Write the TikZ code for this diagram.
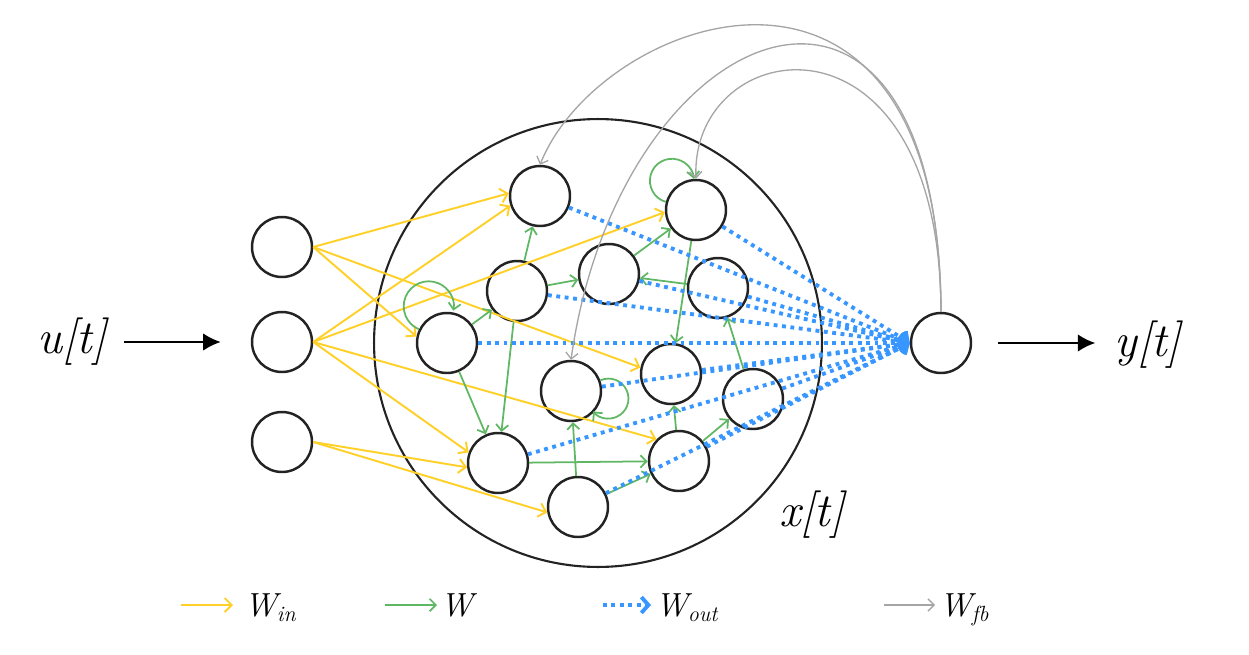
\documentclass[tikz,border=0pt]{standalone}
\usetikzlibrary{arrows.meta}
\definecolor{cyel}{RGB}{255,208,40}
\definecolor{cgrn}{RGB}{95,183,100}
\definecolor{cblu}{RGB}{55,150,255}
\definecolor{cgry}{RGB}{165,165,165}
\definecolor{cstk}{RGB}{35,35,35}
\newcommand{\legsub}[1]{\raisebox{-0.35ex}{\fontsize{12.5}{13}\selectfont #1}}
\begin{document}
\begin{tikzpicture}[x=0.02cm,y=0.02cm,
  neuron/.style={circle,draw=cstk,line width=1.4pt,minimum size=1.2cm,inner sep=0pt},
  resv/.style={circle,draw=cstk,line width=1.2pt,minimum size=8.96cm,inner sep=0pt},
  yedge/.style={draw=cyel,line width=1.1pt,-{Straight Barb[length=4pt,width=8pt]}},
  gedge/.style={draw=cgrn,line width=1pt,-{Straight Barb[length=3.5pt,width=7pt]}},
  fbedge/.style={draw=cgry,line width=0.75pt,-{Straight Barb[length=3.5pt,width=7pt]}},
  oedge/.style={draw=cblu,line width=2.2pt,dash pattern=on 2.2pt off 2.6pt,-{Straight Barb[length=4pt,width=9pt]}},
  bigarrow/.style={draw=black,line width=1.4pt,-{Latex[length=10pt,width=10pt]}},
  lab/.style={inner sep=0pt,font=\fontsize{27}{30}\selectfont\itshape},
  leg/.style={inner sep=0pt,anchor=base west,font=\fontsize{19}{22}\selectfont\itshape}]
\useasboundingbox (0,0) rectangle (1249,654);

% reservoir
\node[resv] (res) at (598,311) {};

% neurons
\node[neuron] (i1) at (282,407) {};
\node[neuron] (i2) at (282,312) {};
\node[neuron] (i3) at (282,212) {};
\node[neuron] (r1) at (540,458) {};
\node[neuron] (r2) at (517,363) {};
\node[neuron] (r3) at (447,311) {};
\node[neuron] (r4) at (609,380) {};
\node[neuron] (r5) at (696,444) {};
\node[neuron] (r6) at (718,366) {};
\node[neuron] (r7) at (571,263) {};
\node[neuron] (r8) at (498,191) {};
\node[neuron] (r9) at (578,147) {};
\node[neuron] (r10) at (671,280) {};
\node[neuron] (r11) at (753,255) {};
\node[neuron] (r12) at (679,193) {};
\node[neuron] (out) at (941,311) {};

% labels
\node[lab] (ulab) at (72,312) {u[t]};
\node[lab] (ylab) at (1148,309) {y[t]};
\node[lab] (xlab) at (812,139) {x[t]};

\draw[bigarrow,shorten <=0.34cm,shorten >=0.6cm] (ulab.east |- i2) -- (i2.west);
\draw[bigarrow,shorten <=0.52cm,shorten >=0.38cm] (out.east) -- (out.east -| ylab.west);

% input weights
\draw[yedge] (i1.east) -- (r1.175);
\draw[yedge] (i1.east) -- (r3.168);
\draw[yedge] (i1.east) -- (r10.168);
\draw[yedge] (i2.east) -- (r1.198);
\draw[yedge] (i2.east) -- (r5.184);
\draw[yedge] (i2.east) -- (r8.160);
\draw[yedge] (i2.east) -- (r12.136);
\draw[yedge] (i3.east) -- (r8.188);
\draw[yedge] (i3.east) -- (r9.190);

% reservoir weights
\draw[gedge] (r3) -- (r2);
\draw[gedge] (r2) -- (r1);
\draw[gedge] (r2) -- (r4);
\draw[gedge] (r2) -- (r8);
\draw[gedge] (r3) -- (r8);
\draw[gedge] (r4) -- (r5);
\draw[gedge] (r5) -- (r10);
\draw[gedge] (r6) -- (r4);
\draw[gedge] (r11) -- (r6);
\draw[gedge] (r9) -- (r7);
\draw[gedge] (r8) -- (r12);
\draw[gedge] (r9) -- (r12);
\draw[gedge] (r12) -- (r10);
\draw[gedge] (r12) -- (r11);
\draw[gedge] (r3.154) arc[start angle=247, end angle=-10, radius=25];
\draw[gedge] (r5.165) arc[start angle=254, end angle=5, radius=22];
\draw[gedge] (r7.20) arc[start angle=114, end angle=-140, radius=20];

% output weights
\foreach \n in {r1,r2,r3,r4,r5,r6,r7,r8,r9,r10,r11,r12}
  \draw[oedge] (\n) -- (out.west);

% feedback weights
\draw[fbedge] (out.north) .. controls (940,760) and (600,640) .. (r1.north);
\draw[fbedge] (out.north) .. controls (938,765) and (620,640) .. (r7.north);
\draw[fbedge] (out.north) .. controls (940,660) and (690,620) .. (r5.north);

% legend
\coordinate (lyA) at (181,49); \coordinate (lyB) at (233,49);
\coordinate (lgA) at (385,49); \coordinate (lgB) at (437,49);
\coordinate (lbA) at (603,49); \coordinate (lbB) at (651,49);
\coordinate (lfA) at (884,49); \coordinate (lfB) at (935,49);
\draw[yedge] (lyA) -- (lyB);
\draw[gedge] (lgA) -- (lgB);
\draw[oedge] (lbA) -- (lbB);
\draw[fbedge] (lfA) -- (lfB);
\node[leg] (lwin) at (244,38) {W\legsub{in}};
\node[leg] (lw) at (440,38) {W};
\node[leg] (lwout) at (655,38) {W\legsub{out}};
\node[leg] (lwfb) at (939,38) {W\legsub{fb}};
\end{tikzpicture}
\end{document}
